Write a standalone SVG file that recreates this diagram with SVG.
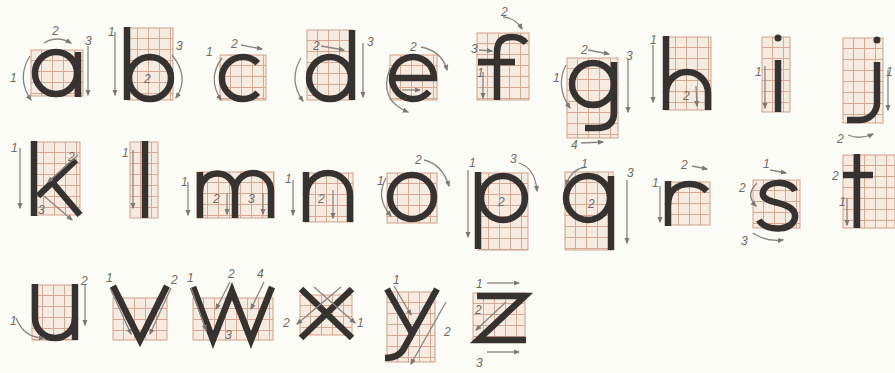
<svg xmlns="http://www.w3.org/2000/svg" width="895" height="373" viewBox="0 0 895 373">
<defs>
<pattern id="gp" patternUnits="userSpaceOnUse" width="11" height="11">
<rect width="11" height="11" fill="#f6ebe0"/>
<path d="M10.5 0V11M0 10.5H11" stroke="#d6a994" stroke-width="1" fill="none"/>
</pattern>
<marker id="ah" viewBox="0 0 10 10" refX="8" refY="5" markerWidth="5" markerHeight="5" orient="auto">
<path d="M0,1 L10,5 L0,9 Z" fill="#7d7873"/>
</marker>
<style>
.gr{fill:url(#gp);stroke:#cf9f8a;stroke-width:1}
.L{fill:none;stroke:#363230;stroke-width:6.5}
.a{fill:none;stroke:#8a8580;stroke-width:1.3;marker-end:url(#ah)}
.n{font-family:"Liberation Sans",Arial,sans-serif;font-style:italic;font-size:12px;fill:#6e6964}
.d{fill:#363230}
</style>
</defs>
<rect width="895" height="373" fill="#fcfcf7"/>

<g id="letter-a">
<g transform="translate(31,50)"><rect class="gr" width="52" height="46"/></g>
<circle class="L" cx="56" cy="73" r="21"/>
<path class="L" d="M78,52 L78,97"/>
<path class="a" d="M88,46 L88,95"/>
<text class="n" x="85" y="45">3</text>
<path class="a" d="M44,43 Q57,35 71,43"/>
<text class="n" x="52" y="35">2</text>
<path class="a" d="M30,56 Q16,78 31,100"/>
<text class="n" x="10" y="82">1</text>
</g>

<g id="letter-b">
<g transform="translate(127,28)"><rect class="gr" width="46" height="72"/></g>
<path class="L" d="M127,27 L127,100"/>
<circle class="L" cx="150" cy="78" r="21"/>
<path class="a" d="M115,32 L115,95"/>
<text class="n" x="108" y="36">1</text>
<path class="a" d="M172,55 Q190,77 176,98"/>
<text class="n" x="176" y="50">3</text>
<text class="n" x="144" y="83">2</text>
</g>

<g id="letter-c">
<g transform="translate(220,55)"><rect class="gr" width="46" height="45"/></g>
<path class="L" d="M257.8,63.2 A21,21 0 1 0 257.8,92.8"/>
<path class="a" d="M222,58 Q207,78 221,100"/>
<text class="n" x="206" y="56">1</text>
<path class="a" d="M241,45 L262,49"/>
<text class="n" x="231" y="48">2</text>
</g>

<g id="letter-d">
<g transform="translate(307,30)"><rect class="gr" width="46" height="70"/></g>
<circle class="L" cx="330" cy="78" r="21"/>
<path class="L" d="M352,30 L352,100"/>
<path class="a" d="M321,46 L344,50"/>
<text class="n" x="313" y="50">2</text>
<path class="a" d="M363,43 L363,97"/>
<text class="n" x="367" y="46">3</text>
<path class="a" d="M301,58 Q288,80 303,101"/>
</g>

<g id="letter-e">
<g transform="translate(390,55)"><rect class="gr" width="47" height="45"/></g>
<path class="L" d="M392,78 L434,78 A21,21 0 1 0 429.1,91.5"/>
<path class="a" d="M421,47 Q442,51 447,70"/>
<text class="n" x="410" y="51">2</text>
<path class="a" d="M390,68 Q378,100 408,112"/>
<path class="a" d="M402,90 L420,90"/>
</g>

<g id="letter-f">
<g transform="translate(477,33)"><rect class="gr" width="52" height="67"/></g>
<path class="L" d="M497,100 L497,52 Q497,37 512,37 Q521,37 526,43"/>
<path class="L" d="M478,62 L515,62"/>
<path class="a" d="M503,17 Q516,18 522,29"/>
<text class="n" x="501" y="16">2</text>
<path class="a" d="M479,50 L492,51"/>
<text class="n" x="471" y="53">3</text>
<path class="a" d="M483,72 L483,98"/>
<text class="n" x="477" y="77">1</text>
</g>

<g id="letter-g">
<g transform="translate(567,58)"><rect class="gr" width="51" height="80"/></g>
<circle class="L" cx="593" cy="84" r="21"/>
<path class="L" d="M614,62 L614,112 Q614,128 597,128 L585,128"/>
<path class="a" d="M588,50 L609,54"/>
<text class="n" x="581" y="54">2</text>
<path class="a" d="M628,60 L628,112"/>
<text class="n" x="626" y="60">3</text>
<path class="a" d="M566,65 Q555,86 570,108"/>
<text class="n" x="553" y="82">1</text>
<path class="a" d="M581,143 L603,142"/>
<text class="n" x="571" y="149">4</text>
</g>

<g id="letter-h">
<g transform="translate(665,37)"><rect class="gr" width="46" height="73"/></g>
<path class="L" d="M666,36 L666,110"/>
<path class="L" d="M666,93 A21,21 0 0 1 708,93 L708,110"/>
<path class="a" d="M653,45 L653,102"/>
<text class="n" x="650" y="44">1</text>
<path class="a" d="M696,86 L697,106"/>
<text class="n" x="683" y="100">2</text>
</g>

<g id="letter-i">
<g transform="translate(762,37)"><rect class="gr" width="28" height="75"/></g>
<path class="L" d="M778,60 L778,112"/>
<circle class="d" cx="778" cy="38" r="3.5"/>
<path class="a" d="M765,66 L765,108"/>
<text class="n" x="755" y="76">1</text>
</g>

<g id="letter-j">
<g transform="translate(843,38)"><rect class="gr" width="40" height="85"/></g>
<path class="L" d="M877,62 L877,103 A17,17 0 0 1 860,120 L847,120"/>
<circle class="d" cx="877" cy="40" r="3.5"/>
<path class="a" d="M888,70 L888,110"/>
<text class="n" x="886" y="76">1</text>
<path class="a" d="M848,135 Q860,140 873,134"/>
<text class="n" x="837" y="143">2</text>
</g>

<g id="letter-k">
<g transform="translate(33,142)"><rect class="gr" width="47" height="73"/></g>
<path class="L" d="M34,141 L34,216"/>
<path class="L" d="M76,160 L38,196"/>
<path class="L" d="M52,182 L80,215"/>
<path class="a" d="M20,148 L20,208"/>
<text class="n" x="11" y="152">1</text>
<path class="a" d="M78,155 L48,182"/>
<text class="n" x="68" y="161">2</text>
<path class="a" d="M44,196 L72,220"/>
<text class="n" x="38" y="214">3</text>
</g>

<g id="letter-l">
<g transform="translate(130,142)"><rect class="gr" width="28" height="76"/></g>
<path class="L" d="M145,141 L145,218"/>
<path class="a" d="M133,150 L133,208"/>
<text class="n" x="122" y="157">1</text>
</g>

<g id="letter-m">
<g transform="translate(197,172)"><rect class="gr" width="77" height="46"/></g>
<path class="L" d="M200,172 L200,218"/>
<path class="L" d="M200,191 A17.5,17.5 0 0 1 235,191 L235,218"/>
<path class="L" d="M235,191 A18,18 0 0 1 271,191 L271,218"/>
<path class="a" d="M188,182 L188,215"/>
<text class="n" x="181" y="186">1</text>
<path class="a" d="M227,193 L227,214"/>
<text class="n" x="213" y="203">2</text>
<path class="a" d="M263,193 L263,214"/>
<text class="n" x="248" y="203">3</text>
</g>

<g id="letter-n">
<g transform="translate(305,173)"><rect class="gr" width="48" height="49"/></g>
<path class="L" d="M306,172 L306,222"/>
<path class="L" d="M306,195 A22,22 0 0 1 350,195 L350,222"/>
<path class="a" d="M293,180 L293,215"/>
<text class="n" x="285" y="183">1</text>
<path class="a" d="M333,190 L333,218"/>
<text class="n" x="318" y="203">2</text>
</g>

<g id="letter-o">
<g transform="translate(387,173)"><rect class="gr" width="50" height="50"/></g>
<circle class="L" cx="412" cy="197" r="22"/>
<path class="a" d="M424,160 Q442,164 449,186"/>
<text class="n" x="415" y="164">2</text>
<path class="a" d="M386,178 Q375,198 391,216"/>
<text class="n" x="377" y="185">1</text>
</g>

<g id="letter-p">
<g transform="translate(478,173)"><rect class="gr" width="50" height="77"/></g>
<path class="L" d="M478,172 L478,249"/>
<circle class="L" cx="503" cy="198" r="22"/>
<path class="a" d="M468,170 L468,237"/>
<text class="n" x="469" y="167">1</text>
<path class="a" d="M519,163 Q535,168 537,191"/>
<text class="n" x="510" y="163">3</text>
<text class="n" x="498" y="206">2</text>
</g>

<g id="letter-q">
<g transform="translate(565,172)"><rect class="gr" width="48" height="78"/></g>
<circle class="L" cx="588" cy="198" r="22"/>
<path class="L" d="M611,176 L611,250"/>
<path class="a" d="M586,167 Q571,169 566,185"/>
<text class="n" x="581" y="168">1</text>
<path class="a" d="M627,180 L627,243"/>
<text class="n" x="627" y="177">3</text>
<text class="n" x="588" y="208">2</text>
</g>

<g id="letter-r">
<g transform="translate(668,182)"><rect class="gr" width="42" height="43"/></g>
<path class="L" d="M668,181 L668,226"/>
<path class="L" d="M668,205 C668,190 678,184 690,184 C698,184 703,187 707,191"/>
<path class="a" d="M692,166 L707,169"/>
<text class="n" x="681" y="169">2</text>
<path class="a" d="M660,186 L660,222"/>
<text class="n" x="652" y="187">1</text>
</g>

<g id="letter-s">
<g transform="translate(753,180)"><rect class="gr" width="47" height="48"/></g>
<path class="L" d="M795,191 C790,180 766,180 763,192 C760,205 793,200 795,215 C797,231 766,233 759,220"/>
<path class="a" d="M770,170 L786,173"/>
<text class="n" x="763" y="168">1</text>
<path class="a" d="M757,183 Q745,195 756,206"/>
<text class="n" x="739" y="192">2</text>
<path class="a" d="M753,233 Q766,242 783,240"/>
<text class="n" x="741" y="245">3</text>
</g>

<g id="letter-t">
<g transform="translate(843,155)"><rect class="gr" width="52" height="73"/></g>
<path class="L" d="M857,154 L857,228"/>
<path class="L" d="M843,175 L873,175"/>
<text class="n" x="832" y="180">2</text>
<path class="a" d="M847,198 L847,225"/>
<text class="n" x="839" y="206">1</text>
</g>

<g id="letter-u">
<g transform="translate(32,285)"><rect class="gr" width="45" height="55"/></g>
<path class="L" d="M35,284 L35,318 A20,20 0 0 0 75,318"/>
<path class="L" d="M75,284 L75,340"/>
<path class="a" d="M85,285 L85,325"/>
<text class="n" x="81" y="285">2</text>
<path class="a" d="M16,318 Q24,338 44,338"/>
<text class="n" x="10" y="325">1</text>
</g>

<g id="letter-v">
<g transform="translate(113,298)"><rect class="gr" width="54" height="42"/></g>
<path class="L" d="M113,286 L140,340 L167,286"/>
<path class="a" d="M110,288 L131,334"/>
<text class="n" x="106" y="282">1</text>
<path class="a" d="M171,288 L150,334"/>
<text class="n" x="171" y="284">2</text>
</g>

<g id="letter-w">
<g transform="translate(193,298)"><rect class="gr" width="80" height="42"/></g>
<path class="L" d="M193,287 L213,340 L232,291 L251,340 L272,287"/>
<path class="a" d="M191,288 L206,330"/>
<text class="n" x="187" y="282">1</text>
<path class="a" d="M230,282 L216,309"/>
<text class="n" x="228" y="278">2</text>
<path class="a" d="M264,282 L251,309"/>
<text class="n" x="257" y="278">4</text>
<text class="n" x="225" y="339">3</text>
</g>

<g id="letter-x">
<g transform="translate(300,295)"><rect class="gr" width="52" height="40"/></g>
<path class="L" d="M301,289 L352,338"/>
<path class="L" d="M352,289 L301,338"/>
<path class="a" d="M314,287 L355,323"/>
<text class="n" x="357" y="327">1</text>
<path class="a" d="M341,287 L297,324"/>
<text class="n" x="283" y="327">2</text>
</g>

<g id="letter-y">
<g transform="translate(387,292)"><rect class="gr" width="48" height="70"/></g>
<path class="L" d="M387,289 L412,333"/>
<path class="L" d="M437,289 L403,350 Q398,358 385,358"/>
<path class="a" d="M394,286 L411,315"/>
<text class="n" x="393" y="284">1</text>
<path class="a" d="M446,302 L411,364"/>
<text class="n" x="444" y="336">2</text>
</g>

<g id="letter-z">
<g transform="translate(473,293)"><rect class="gr" width="52" height="49"/></g>
<path class="L" d="M477,296 L525,296 L478,340 L526,340"/>
<path class="a" d="M487,283 L519,283"/>
<text class="n" x="476" y="288">1</text>
<path class="a" d="M506,302 L476,330"/>
<text class="n" x="475" y="314">2</text>
<path class="a" d="M487,352 L519,352"/>
<text class="n" x="476" y="367">3</text>
</g>
</svg>
